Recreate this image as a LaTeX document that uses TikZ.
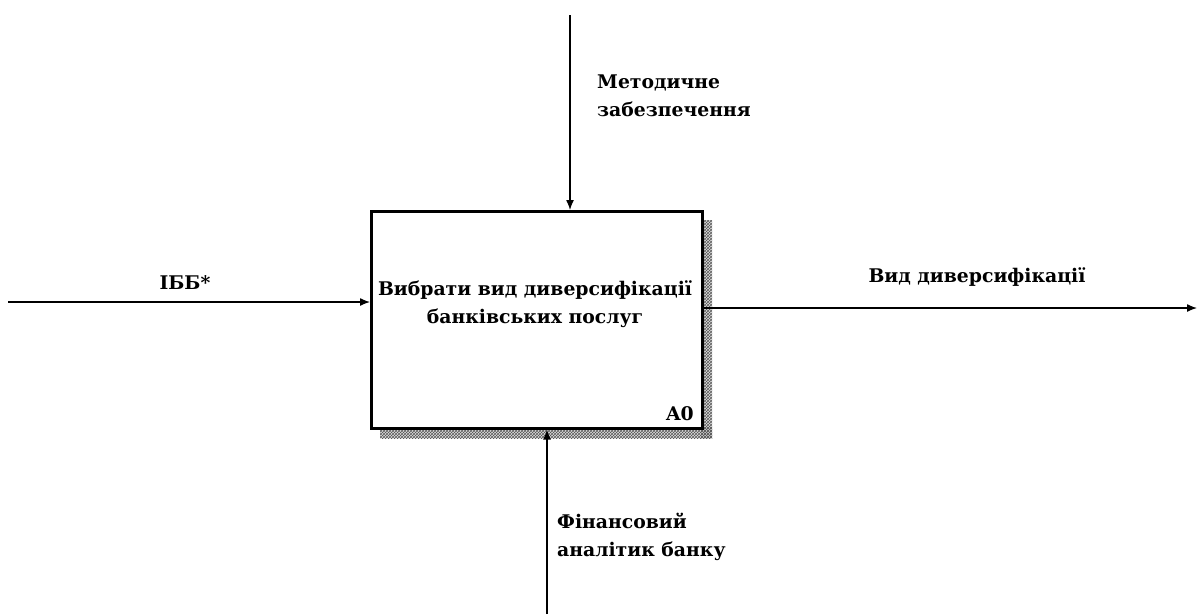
\documentclass[tikz,border=0pt]{standalone}
\usepackage{fontspec}
\setmainfont{DejaVu Serif}
\usetikzlibrary{arrows.meta,patterns}
\begin{document}
\begin{tikzpicture}[x=1pt,y=-1pt,
  arr/.style={line width=1.3pt,-{Latex[length=10pt,width=8pt]}},
  lbl/.style={font=\bfseries\fontsize{18.8}{27.5}\selectfont,inner sep=0pt},
  lblL/.style={lbl,anchor=west,align=left}]
\useasboundingbox (0,0) rectangle (1197,614);
% shadow
\fill[gray!25] (701,220) rectangle (712,438);
\fill[gray!25] (380,427) rectangle (712,438);
\fill[pattern=crosshatch,pattern color=gray!70!black] (701,220) rectangle (712,438);
\fill[pattern=crosshatch,pattern color=gray!70!black] (380,427) rectangle (712,438);
\node[draw,line width=2.6pt,fill=white,minimum width=331pt,minimum height=217pt,anchor=north west,inner sep=0pt] (box) at (370,210) {};
\node[lbl,align=center] (txt) at (535,304) {Вибрати вид диверсифікації\\банківських послуг};
\node[lbl,anchor=base east] (a0) at (694,420) {A0};
% coordinates
\coordinate (ctop) at (570,15);
\coordinate (cleft) at (8,302);
\coordinate (cright) at (1197,308);
\coordinate (cbot) at (547,614);
\draw[arr] (ctop) -- (ctop |- box.north);
\draw[arr] (cleft) -- (cleft -| box.west);
\draw[arr] (box.east |- cright) -- (cright);
\draw[arr] (cbot) -- (cbot |- box.south);
\node[lblL] (met) at (597,96) {Методичне\\забезпечення};
\node[lbl] (ibb) at (185,283) {ІББ*};
\node[lbl] (vid) at (977,277) {Вид диверсифікації};
\node[lblL] (fin) at (557,537) {Фінансовий\\аналітик банку};
\end{tikzpicture}
\end{document}
